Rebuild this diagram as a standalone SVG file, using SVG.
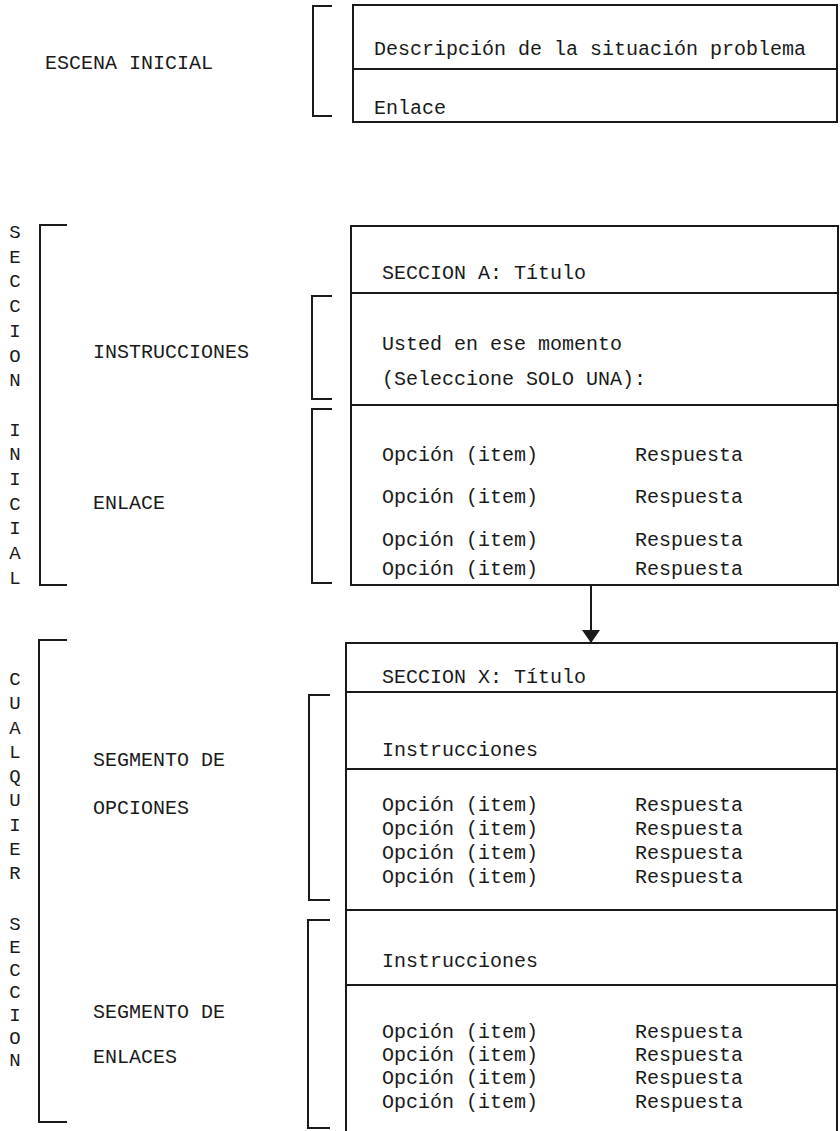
<svg xmlns="http://www.w3.org/2000/svg" width="840" height="1131" viewBox="0 0 840 1131">
<defs>
<style>
text{font-family:"Liberation Mono","Courier New",monospace;font-size:20px;fill:#1a1a1a}
.v{text-anchor:middle;font-size:19px}
.ln{fill:none;stroke:#1a1a1a;stroke-width:2}
.br{fill:none;stroke:#1a1a1a;stroke-width:2}
</style>
<marker id="ah" markerUnits="userSpaceOnUse" markerWidth="13" markerHeight="18" refX="13" refY="9" orient="auto" viewBox="0 0 13 18">
<path d="M0,0 L13,9 L0,18 Z" fill="#1a1a1a"/>
</marker>
</defs>
<rect width="840" height="1131" fill="#fff"/>

<g id="escena-inicial">
<text x="45" y="69">ESCENA INICIAL</text>
<path class="br" d="M332,6 H313 V116 H332"/>
<rect class="ln" x="353" y="5" width="484" height="117"/>
<line class="ln" x1="353" y1="69" x2="837" y2="69"/>
<text x="374" y="55">Descripción de la situación problema</text>
<text x="374" y="114">Enlace</text>
</g>

<g id="seccion-inicial-label">
<path class="br" d="M67,225 H40 V585 H67"/>
<text class="v" x="15" y="238">S</text>
<text class="v" x="15" y="263">E</text>
<text class="v" x="15" y="287">C</text>
<text class="v" x="15" y="312">C</text>
<text class="v" x="15" y="337">I</text>
<text class="v" x="15" y="362">O</text>
<text class="v" x="15" y="386">N</text>
<text class="v" x="15" y="436">I</text>
<text class="v" x="15" y="460">N</text>
<text class="v" x="15" y="485">I</text>
<text class="v" x="15" y="510">C</text>
<text class="v" x="15" y="534">I</text>
<text class="v" x="15" y="559">A</text>
<text class="v" x="15" y="584">L</text>
</g>

<g id="instrucciones-label">
<text x="93" y="358">INSTRUCCIONES</text>
<path class="br" d="M332,296 H312 V399 H332"/>
</g>

<g id="enlace-label">
<text x="93" y="509">ENLACE</text>
<path class="br" d="M332,409 H312 V583 H332"/>
</g>

<g id="seccion-a">
<rect class="ln" x="351" y="226" width="487" height="359"/>
<line class="ln" x1="351" y1="293" x2="838" y2="293"/>
<line class="ln" x1="351" y1="405" x2="838" y2="405"/>
<text x="382" y="279">SECCION A: Título</text>
<text x="382" y="350">Usted en ese momento</text>
<text x="382" y="385">(Seleccione SOLO UNA):</text>
<text x="382" y="461">Opción (item)</text><text x="635" y="461">Respuesta</text>
<text x="382" y="503">Opción (item)</text><text x="635" y="503">Respuesta</text>
<text x="382" y="546">Opción (item)</text><text x="635" y="546">Respuesta</text>
<text x="382" y="575">Opción (item)</text><text x="635" y="575">Respuesta</text>
</g>

<g id="cualquier-seccion-label">
<path class="br" d="M67,640 H39 V1122 H67"/>
<text class="v" x="15" y="685">C</text>
<text class="v" x="15" y="709">U</text>
<text class="v" x="15" y="734">A</text>
<text class="v" x="15" y="758">L</text>
<text class="v" x="15" y="782">Q</text>
<text class="v" x="15" y="806">U</text>
<text class="v" x="15" y="831">I</text>
<text class="v" x="15" y="855">E</text>
<text class="v" x="15" y="879">R</text>
<text class="v" x="15" y="930">S</text>
<text class="v" x="15" y="953">E</text>
<text class="v" x="15" y="976">C</text>
<text class="v" x="15" y="998">C</text>
<text class="v" x="15" y="1021">I</text>
<text class="v" x="15" y="1044">O</text>
<text class="v" x="15" y="1066">N</text>
</g>

<g id="segmento-opciones-label">
<text x="93" y="766">SEGMENTO DE</text>
<text x="93" y="814">OPCIONES</text>
<path class="br" d="M330,695 H309 V900 H330"/>
</g>

<g id="segmento-enlaces-label">
<text x="93" y="1018">SEGMENTO DE</text>
<text x="93" y="1063">ENLACES</text>
<path class="br" d="M330,920 H308 V1128 H330"/>
</g>

<g id="seccion-x">
<path class="ln" d="M346,1131 V643 H837 V1131"/>
<line class="ln" x1="346" y1="692" x2="837" y2="692"/>
<line class="ln" x1="346" y1="769" x2="837" y2="769"/>
<line class="ln" x1="346" y1="910" x2="837" y2="910"/>
<line class="ln" x1="346" y1="985" x2="837" y2="985"/>
<text x="382" y="683">SECCION X: Título</text>
<text x="382" y="756">Instrucciones</text>
<text x="382" y="811">Opción (item)</text><text x="635" y="811">Respuesta</text>
<text x="382" y="835">Opción (item)</text><text x="635" y="835">Respuesta</text>
<text x="382" y="859">Opción (item)</text><text x="635" y="859">Respuesta</text>
<text x="382" y="883">Opción (item)</text><text x="635" y="883">Respuesta</text>
<text x="382" y="967">Instrucciones</text>
<text x="382" y="1038">Opción (item)</text><text x="635" y="1038">Respuesta</text>
<text x="382" y="1061">Opción (item)</text><text x="635" y="1061">Respuesta</text>
<text x="382" y="1084">Opción (item)</text><text x="635" y="1084">Respuesta</text>
<text x="382" y="1108">Opción (item)</text><text x="635" y="1108">Respuesta</text>
</g>

<g id="connectors">
<line x1="591" y1="585" x2="591" y2="643" stroke="#1a1a1a" stroke-width="2" marker-end="url(#ah)"/>
</g>
</svg>
